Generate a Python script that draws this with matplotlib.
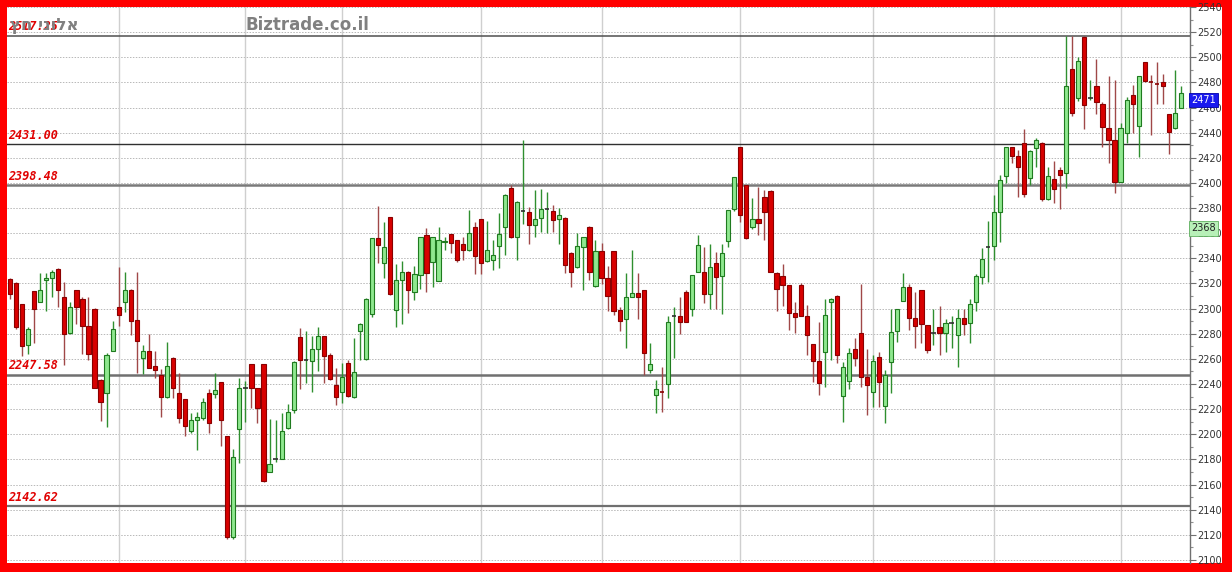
import matplotlib
matplotlib.use("Agg")
import matplotlib.pyplot as plt
import matplotlib.transforms as mtransforms
from matplotlib.patches import Rectangle
import numpy as np

# ---------------- data ----------------
opens = [2323.5, 2320, 2304, 2271, 2314, 2305, 2323, 2324, 2331.5, 2309,
         2281, 2315, 2308, 2286, 2300, 2243, 2232.5, 2266.5, 2301, 2305,
         2315, 2291, 2261, 2266, 2254, 2247, 2230, 2261, 2232.5, 2228,
         2203, 2211, 2213, 2232.5, 2232, 2242, 2199, 2118.5, 2204, 2237,
         2256, 2236.5, 2256, 2170, 2180, 2180, 2204.7, 2219, 2277.6, 2259,
         2258.3, 2267.5, 2278.2, 2263, 2239, 2234, 2257, 2229.4, 2282.4, 2259.6,
         2295.7, 2355.8, 2336, 2372.6, 2298.8, 2322.7, 2329.3, 2313.4, 2326.7, 2358.5,
         2337.3, 2322, 2353, 2359, 2354.5, 2351.3, 2346.5, 2364.6, 2371, 2338,
         2339, 2349.7, 2365, 2395.6, 2356.6, 2377.6, 2377, 2366.4, 2372.5, 2379.2,
         2377.8, 2371.7, 2372.5, 2344.5, 2332.8, 2349.2, 2365, 2318, 2345.8, 2324.6,
         2345.8, 2298.8, 2291.4, 2309.4, 2312.6, 2314.8, 2251, 2231, 2233.5, 2240,
         2294, 2294, 2313.4, 2299.4, 2329.4, 2329.4, 2311.6, 2336.5, 2325.9, 2354,
         2379, 2428.3, 2398.3, 2364.6, 2371, 2389, 2393.8, 2328.5, 2326, 2318.8,
         2296.2, 2318.8, 2294.1, 2271.8, 2258.5, 2265.7, 2305.5, 2310, 2230.4, 2242.6,
         2267.5, 2280.3, 2245.3, 2233.8, 2261.2, 2222.4, 2257.7, 2282.4, 2306.2, 2317.4,
         2292.2, 2314.7, 2287, 2280.8, 2285, 2280.8, 2288.2, 2279, 2292.2, 2288.2,
         2305.5, 2325.4, 2349.2, 2349.8, 2377, 2405.5, 2428.3, 2421.4, 2431.4, 2403.6,
         2427.5, 2431.4, 2387, 2402.8, 2410.2, 2408, 2490.3, 2467.2, 2515.8, 2467.2,
         2477, 2462.7, 2443.4, 2434, 2401, 2439.4, 2470, 2445.2, 2496.4, 2480.2,
         2479, 2480.5, 2454.8, 2443.4, 2460]
highs = [2324, 2321, 2304, 2285, 2314, 2328, 2328, 2331, 2332, 2321,
         2305.5, 2315, 2309, 2309, 2300.5, 2244, 2265, 2290, 2333, 2329,
         2316, 2329, 2271, 2280, 2266, 2251.6, 2273.6, 2261.5, 2249, 2228,
         2217, 2218, 2228.6, 2235.7, 2248.5, 2242, 2199, 2188, 2244.5, 2242.6,
         2256, 2237, 2256, 2212, 2211, 2216.6, 2224, 2258, 2284.3, 2282.4,
         2278.2, 2285.6, 2278.5, 2264.4, 2252.4, 2257, 2259, 2277, 2288.7, 2308.5,
         2356, 2381.6, 2369, 2373, 2335.4, 2338, 2330, 2333.8, 2357, 2363.8,
         2357, 2365, 2356.6, 2359.5, 2355, 2356.6, 2378.4, 2369, 2371, 2370,
         2354.5, 2376.2, 2391, 2398.2, 2385.5, 2434, 2381, 2394.3, 2394.8, 2393,
         2382.3, 2379.7, 2373, 2345, 2359.8, 2357, 2365.5, 2354.5, 2352.4, 2333.9,
         2346, 2301.5, 2328.5, 2347, 2328.5, 2315, 2273, 2243, 2253.8, 2294,
         2301, 2309, 2314.8, 2327, 2358.5, 2348.7, 2351.4, 2345.3, 2351.4, 2378.5,
         2404.5, 2428.5, 2398.5, 2387.7, 2396.4, 2394.3, 2394, 2329, 2335.4, 2319,
         2305.5, 2320, 2302.8, 2272, 2289.6, 2308, 2308.5, 2310.5, 2257.8, 2268.3,
         2277, 2319.5, 2267.5, 2263, 2265.7, 2251, 2300, 2300, 2328.5, 2319.5,
         2313.4, 2315, 2287, 2299.4, 2302, 2291.4, 2294, 2299.4, 2299.4, 2307.3,
         2327.5, 2347.9, 2370, 2390.3, 2406, 2428.5, 2428.5, 2426, 2442.6, 2426,
         2435.4, 2432.8, 2413, 2417.7, 2412.4, 2516.8, 2516.8, 2500.4, 2516.8, 2481.8,
         2498.3, 2464.6, 2485, 2481.8, 2448, 2468.6, 2477.8, 2485, 2496.5, 2485.8,
         2496.4, 2486.6, 2455, 2489.8, 2477]
lows = [2308, 2284, 2262, 2264, 2273, 2305, 2298, 2309, 2301.5, 2255,
        2280, 2288, 2264, 2259, 2237, 2210.5, 2206, 2266, 2286, 2297,
        2279, 2248.5, 2248, 2253, 2245, 2214, 2229, 2229, 2209, 2199,
        2201, 2187.5, 2211, 2201, 2228.6, 2190.6, 2117, 2117, 2177, 2210,
        2220.6, 2208.7, 2162, 2170, 2178, 2180, 2204, 2217, 2235.7, 2241,
        2234, 2250, 2240.5, 2243, 2223.3, 2225, 2229.4, 2229, 2259, 2259,
        2293.5, 2336, 2324, 2311, 2285, 2288, 2296.7, 2306.8, 2316, 2313.4,
        2317.4, 2322, 2346.5, 2344.4, 2337.3, 2339, 2346, 2327.4, 2327.4, 2337.3,
        2330.6, 2332.7, 2342.6, 2356, 2339, 2367, 2351.8, 2356.6, 2361, 2360.3,
        2361, 2351.8, 2328, 2317, 2332, 2314.8, 2322.7, 2317.5, 2319.5, 2298.3,
        2295, 2282.4, 2269, 2309, 2291.4, 2247, 2249, 2217, 2218, 2228.6,
        2261, 2280, 2289, 2294, 2329, 2304.7, 2299.4, 2299.4, 2296, 2349,
        2378, 2369, 2355.5, 2363, 2358.5, 2355, 2329, 2298.3, 2302, 2283,
        2280.3, 2294, 2263, 2241.8, 2231.3, 2238, 2259, 2256.4, 2210, 2235.7,
        2254.3, 2237.8, 2215.3, 2221.4, 2221.4, 2208.7, 2232.5, 2273.6, 2306, 2283,
        2268.3, 2272.3, 2264.4, 2271, 2263, 2265.7, 2268.3, 2253.2, 2279, 2272.3,
        2298.3, 2319.5, 2321.4, 2338.6, 2353, 2400, 2415.5, 2389, 2388.5, 2398.3,
        2413, 2386, 2386.5, 2384.2, 2379, 2395.6, 2453.2, 2465.4, 2442.6, 2466,
        2454.8, 2428.8, 2416, 2391.7, 2400.5, 2431.4, 2440, 2420.3, 2480, 2438,
        2462.7, 2462.7, 2423, 2442.6, 2460]
closes = [2312, 2285, 2270.5, 2284, 2300, 2315, 2324, 2329, 2315, 2280,
          2301, 2301, 2286, 2264, 2237, 2226, 2263, 2284, 2295, 2315,
          2290, 2274, 2266, 2253, 2251, 2229.4, 2254, 2237, 2213, 2206.6,
          2211, 2214, 2226, 2209, 2235, 2211, 2118.5, 2182, 2237, 2237,
          2236.5, 2220.6, 2163, 2176, 2180, 2203, 2218, 2257.7, 2259, 2259,
          2267.5, 2278.2, 2262.5, 2243.7, 2230, 2245.3, 2230.4, 2249.8, 2287.4, 2308,
          2355.8, 2351, 2348.7, 2312, 2322.7, 2329.3, 2314.7, 2327.5, 2356.6, 2328,
          2356.6, 2354.5, 2354, 2352.4, 2338.6, 2346.5, 2360.3, 2341.8, 2336.5, 2347,
          2342.3, 2359.3, 2390.8, 2356.6, 2385, 2377.6, 2366.4, 2371, 2379.2, 2379.2,
          2370.4, 2374.4, 2334.6, 2329.4, 2349.8, 2356.6, 2329.4, 2345.8, 2324, 2310,
          2298.3, 2290.4, 2309.4, 2312.6, 2309.4, 2264.4, 2256, 2235.7, 2233, 2289,
          2294, 2289.6, 2289.6, 2326.7, 2350.6, 2311.6, 2333.3, 2325.4, 2344, 2378.4,
          2404.4, 2374.4, 2356, 2371, 2368.3, 2377, 2329.4, 2316, 2318.8, 2296.2,
          2293.6, 2294.1, 2279, 2258.5, 2240.5, 2295, 2308, 2263, 2253.8, 2264.4,
          2260.4, 2245.8, 2239.2, 2258.5, 2241.8, 2247, 2281.6, 2299.4, 2317.4, 2292.2,
          2286, 2287.7, 2267, 2280.8, 2280.8, 2288.2, 2288.2, 2292.2, 2287.7, 2303.6,
          2325.9, 2339.2, 2349.2, 2377, 2402.3, 2428.3, 2421.4, 2412.3, 2391, 2425.6,
          2434, 2387, 2405.5, 2394.8, 2406.2, 2477, 2455.8, 2497.2, 2462, 2467.2,
          2464.6, 2444.2, 2434, 2401, 2443.4, 2466, 2462.7, 2485, 2481.3, 2479.5,
          2478.5, 2477, 2440.7, 2455.7, 2471.3]

levels = [2517.25, 2431.00, 2398.48, 2247.58, 2142.62]
level_labels = ["2517.25", "2431.00", "2398.48", "2247.58", "2142.62"]
month_starts = [18, 39, 55, 78, 98, 121, 143, 163, 184]
y_ticks = list(range(2100, 2541, 20))
indicator_value = 2368
title_site = "Biztrade.co.il"
title_name = "אלוני חץ"

# ---------------- figure ----------------
W, H = 1232, 572
fig = plt.figure(figsize=(W / 100, H / 100), dpi=100, facecolor="#ff0000")
fig.patches.append(Rectangle((7 / W, 9 / H), (1222 - 7) / W, (563 - 7) / H,
                             transform=fig.transFigure, facecolor="white",
                             edgecolor="none", zorder=-10))
ax = fig.add_axes([7 / W, 9 / H, (1190 - 7) / W, (563 - 7) / H])
ax.set_facecolor("white")

n = len(opens)
x = np.arange(n)
ax.set_xlim(-0.5, n + 0.5)
ax.set_ylim(2097.6, 2540)

# grid
for yt in y_ticks:
    ax.axhline(yt, color="#b8b8b8", lw=0.7, ls=(0, (1.5, 1.5)), zorder=1)
for m in month_starts:
    ax.axvline(m, color="#cfcfcf", lw=1.0, zorder=1)

# level lines
lvl_style = {2517.25: ("#505050", 1.1), 2431.00: ("#303030", 1.0),
             2398.48: ("#7a7a7a", 1.8), 2247.58: ("#707070", 1.8),
             2142.62: ("#707070", 1.6)}
for lv in levels:
    col, lw = lvl_style[lv]
    ax.axhline(lv, color=col, lw=lw, zorder=2)

# candles
o = np.array(opens); h = np.array(highs); l = np.array(lows); c = np.array(closes)
up = c >= o
doji = np.abs(c - o) < 0.8
bw = 0.7
wick_col = np.where(up, "#2f8f2f", "#a04848")
ax.vlines(x, l, h, colors=wick_col, lw=1.0, zorder=3)
body_lo = np.minimum(o, c)
body_h = np.abs(c - o)
m_up = up & ~doji
m_dn = (~up) & ~doji
ax.bar(x[m_up], body_h[m_up], bottom=body_lo[m_up], width=bw,
       color="#8fe88f", edgecolor="#1f7a1f", linewidth=0.8, zorder=4)
ax.bar(x[m_dn], body_h[m_dn], bottom=body_lo[m_dn], width=bw,
       color="#d80000", edgecolor="#8a0000", linewidth=0.8, zorder=4)
for xi in x[doji]:
    col = "#8a0000" if c[xi] < o[xi] else "#303030"
    ax.hlines(o[xi], xi - bw / 2, xi + bw / 2, colors=col, lw=1.2, zorder=4)

# level labels
for lv, lab in zip(levels, level_labels):
    ax.annotate(lab, xy=(0, lv), xycoords=("axes fraction", "data"),
                xytext=(0.8, 1.6), textcoords="offset points",
                ha="left", va="bottom", color="#e00000", fontsize=8.5,
                family="DejaVu Sans Mono", style="italic", weight="bold", zorder=6)

# axes styling
for s in ["left", "top", "bottom"]:
    ax.spines[s].set_visible(False)
ax.spines["right"].set_color("#707070")
ax.spines["right"].set_linewidth(1.0)
ax.set_xticks([])
ax.yaxis.tick_right()
ax.set_yticks(y_ticks)
ax.set_yticks(range(2100, 2541, 10), minor=True)
ax.tick_params(axis="y", which="major", length=4, width=0.8, color="#707070",
               labelsize=7, labelcolor="#333333", pad=1.5)
ax.tick_params(axis="y", which="minor", length=2.5, width=0.8, color="#909090")

# right-hand value boxes
bt = mtransforms.blended_transform_factory(ax.transAxes, ax.transData)
last_val = int(round(closes[-1]))
ax.text(1.001, 2466, f"{last_val}", transform=bt, ha="left", va="center",
        fontsize=7, color="white", zorder=7, clip_on=False,
        bbox=dict(boxstyle="square,pad=0.25", facecolor="#1a1aee",
                  edgecolor="#0000aa", lw=0.6))
ax.text(1.001, 2364, f"{indicator_value}", transform=bt, ha="left", va="center",
        fontsize=7, color="#222222", zorder=7, clip_on=False,
        bbox=dict(boxstyle="square,pad=0.25", facecolor="#b8f0b8",
                  edgecolor="#60b060", lw=0.6))

# header texts
fig.text(307 / W, 1 - 25 / H, title_site, ha="center", va="center",
         fontsize=12, weight="bold", color="#808080", family="DejaVu Sans")
fig.text(79 / W, 1 - 25 / H, title_name[::-1], ha="right", va="center",
         fontsize=12, weight="bold", color="#808080", family="DejaVu Sans")

fig.savefig("out.png", dpi=100, facecolor=fig.get_facecolor())
